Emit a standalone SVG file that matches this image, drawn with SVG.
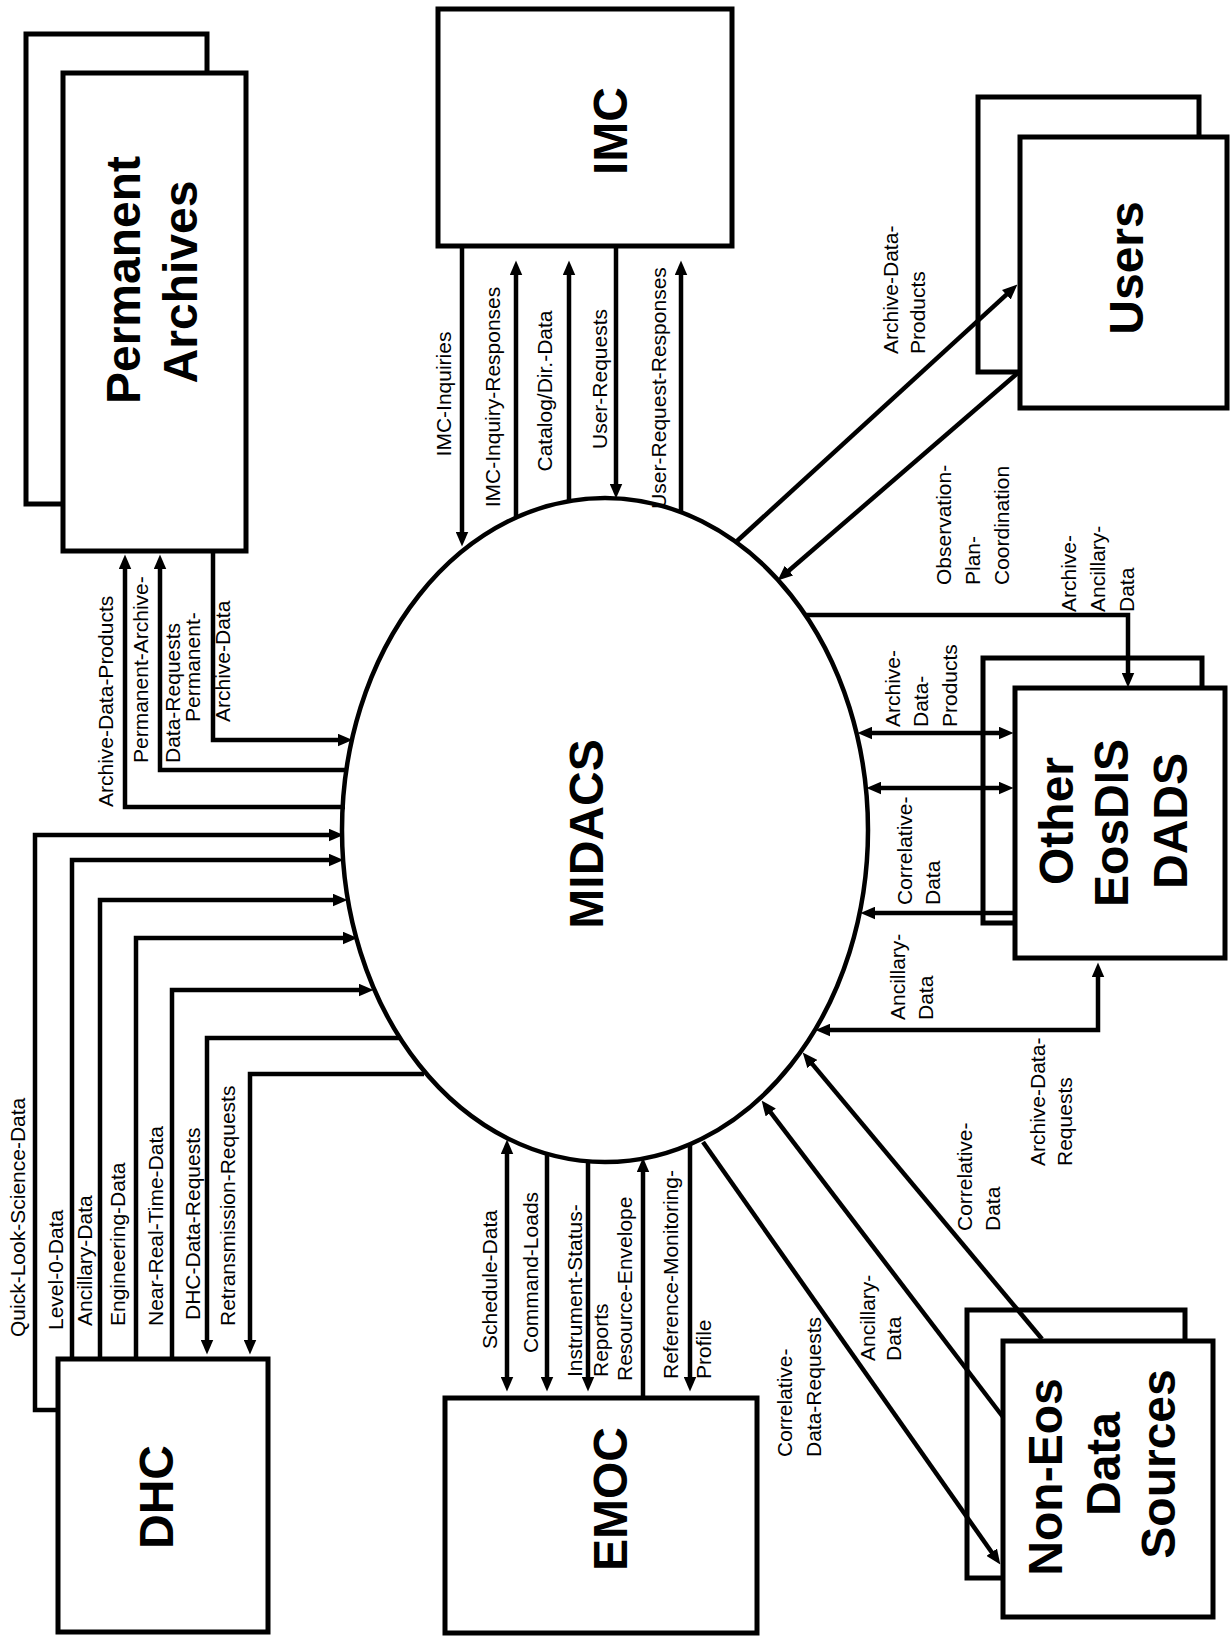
<svg xmlns="http://www.w3.org/2000/svg" width="1232" height="1636" viewBox="0 0 1232 1636">
<style>
.box{fill:#fff;stroke:#000;stroke-width:5}
.ell{fill:#fff;stroke:#000;stroke-width:4.5}
.c{fill:none;stroke:#000;stroke-width:4.5;stroke-linejoin:miter}
.a{marker-end:url(#ah)}
.d{marker-start:url(#ah);marker-end:url(#ah)}
.t{font-family:"Liberation Sans",Arial,sans-serif;font-weight:bold;font-size:48px;text-anchor:middle;fill:#000}
.l{font-family:"Liberation Sans",Arial,sans-serif;font-size:21px;fill:#000}
.m{text-anchor:middle}
</style>
<defs>
<marker id="ah" viewBox="0 0 14 12" refX="6" refY="6" markerWidth="15" markerHeight="13" markerUnits="userSpaceOnUse" orient="auto-start-reverse">
<path d="M0,0 L14,6 L0,12 z" fill="#000"/>
</marker>
</defs>
<rect width="1232" height="1636" fill="#fff"/>

<g id="permanent-archives">
<rect class="box" x="26" y="34" width="181" height="470"/>
<rect class="box" x="63" y="73" width="183" height="478"/>
<text class="t" transform="translate(140,280) rotate(-90)">Permanent</text>
<text class="t" transform="translate(197,282) rotate(-90)">Archives</text>
</g>

<g id="imc">
<rect class="box" x="438" y="9" width="294" height="237"/>
<text class="t" transform="translate(627,131) rotate(-90)">IMC</text>
</g>

<g id="users">
<rect class="box" x="978" y="97" width="221" height="275"/>
<rect class="box" x="1020" y="137" width="207" height="271"/>
<text class="t" transform="translate(1143,268) rotate(-90)">Users</text>
</g>

<g id="other-eosdis-dads">
<rect class="box" x="983" y="658" width="219" height="265"/>
<rect class="box" x="1015" y="688" width="210" height="270"/>
<text class="t" transform="translate(1073,821) rotate(-90)">Other</text>
<text class="t" transform="translate(1128,823) rotate(-90)">EosDIS</text>
<text class="t" transform="translate(1187,821) rotate(-90)">DADS</text>
</g>

<g id="dhc">
<rect class="box" x="58" y="1359" width="210" height="273"/>
<text class="t" transform="translate(173,1497) rotate(-90)">DHC</text>
</g>

<g id="emoc">
<rect class="box" x="445" y="1398" width="312" height="235"/>
<text class="t" transform="translate(627,1499) rotate(-90)">EMOC</text>
</g>

<g id="non-eos-data-sources">
<rect class="box" x="967" y="1310" width="218" height="268"/>
<rect class="box" x="1003" y="1341" width="210" height="276"/>
<text class="t" transform="translate(1062,1477) rotate(-90)">Non-Eos</text>
<text class="t" transform="translate(1120,1464) rotate(-90)">Data</text>
<text class="t" transform="translate(1175,1464) rotate(-90)">Sources</text>
</g>

<g id="midacs">
<ellipse class="ell" cx="605" cy="830" rx="263" ry="332"/>
<text class="t" transform="translate(603,834) rotate(-90)">MIDACS</text>
</g>

<g id="connectors">
<!-- Permanent Archives -->
<path class="c a" d="M345,807 H125 V563"/>
<path class="c a" d="M347,770 H160 V563"/>
<path class="c a" d="M213,551 V740 H344"/>
<!-- IMC -->
<path class="c a" d="M462,246 V538"/>
<path class="c a" d="M516,518 V269"/>
<path class="c a" d="M569,502 V269"/>
<path class="c a" d="M616,246 V490"/>
<path class="c a" d="M681,513 V269"/>
<!-- Users -->
<path class="c a" d="M736,542 L1011.1,290.4"/>
<path class="c a" d="M1020,371 L784.1,574.8"/>
<!-- Other EosDIS DADS -->
<path class="c a" d="M805,615 H1128 V679"/>
<path class="c d" d="M866,733 H1005"/>
<path class="c d" d="M875,788 H1005"/>
<path class="c a" d="M1015,913 H869"/>
<path class="c d" d="M824,1030 H1098 V971"/>
<!-- Non-Eos -->
<path class="c a" d="M1042,1339 L808.2,1059.1"/>
<path class="c a" d="M1003,1417 L766.8,1107.4"/>
<path class="c a" d="M703,1142 L995.4,1557.5"/>
<!-- EMOC -->
<path class="c d" d="M507,1148 V1383"/>
<path class="c a" d="M547,1154 V1383"/>
<path class="c a" d="M588,1162 V1383"/>
<path class="c a" d="M643,1398 V1166"/>
<path class="c a" d="M690,1144 V1383"/>
<!-- DHC -->
<path class="c a" d="M58,1410 H35 V835 H335"/>
<path class="c a" d="M72,1359 V860 H335"/>
<path class="c a" d="M100,1359 V900 H339"/>
<path class="c a" d="M136,1359 V938 H349"/>
<path class="c a" d="M172,1359 V990 H365"/>
<path class="c a" d="M399,1038 H207 V1346"/>
<path class="c a" d="M424,1074 H250 V1346"/>
</g>

<g id="labels">
<!-- IMC -->
<text class="l m" transform="translate(451,394) rotate(-90)">IMC-Inquiries</text>
<text class="l m" transform="translate(500,397) rotate(-90)">IMC-Inquiry-Responses</text>
<text class="l m" transform="translate(552,391) rotate(-90)">Catalog/Dir.-Data</text>
<text class="l m" transform="translate(607,379) rotate(-90)">User-Requests</text>
<text class="l m" transform="translate(666,388) rotate(-90)">User-Request-Responses</text>
<!-- Permanent Archives -->
<text class="l" transform="translate(113,807) rotate(-90)">Archive-Data-Products</text>
<text class="l" transform="translate(148,763) rotate(-90)">Permanent-Archive-</text>
<text class="l" transform="translate(180,763) rotate(-90)">Data-Requests</text>
<text class="l" transform="translate(200,722) rotate(-90)">Permanent-</text>
<text class="l" transform="translate(230,722) rotate(-90)">Archive-Data</text>
<!-- DHC -->
<text class="l" transform="translate(25,1337) rotate(-90)">Quick-Look-Science-Data</text>
<text class="l" transform="translate(63,1330) rotate(-90)">Level-0-Data</text>
<text class="l" transform="translate(92,1326) rotate(-90)">Ancillary-Data</text>
<text class="l" transform="translate(125,1326) rotate(-90)">Engineering-Data</text>
<text class="l" transform="translate(163,1326) rotate(-90)">Near-Real-Time-Data</text>
<text class="l" transform="translate(200,1320) rotate(-90)">DHC-Data-Requests</text>
<text class="l" transform="translate(235,1326) rotate(-90)">Retransmission-Requests</text>
<!-- EMOC -->
<text class="l" transform="translate(497,1349) rotate(-90)">Schedule-Data</text>
<text class="l" transform="translate(538,1353) rotate(-90)">Command-Loads</text>
<text class="l" transform="translate(582,1377) rotate(-90)">Instrument-Status-</text>
<text class="l" transform="translate(608,1377) rotate(-90)">Reports</text>
<text class="l" transform="translate(632,1381) rotate(-90)">Resource-Envelope</text>
<text class="l" transform="translate(678,1379) rotate(-90)">Reference-Monitoring-</text>
<text class="l" transform="translate(711,1379) rotate(-90)">Profile</text>
<!-- Non-Eos -->
<text class="l" transform="translate(792,1457) rotate(-90)">Correlative-</text>
<text class="l" transform="translate(821,1457) rotate(-90)">Data-Requests</text>
<text class="l" transform="translate(875,1361) rotate(-90)">Ancillary-</text>
<text class="l" transform="translate(901,1361) rotate(-90)">Data</text>
<text class="l" transform="translate(972,1231) rotate(-90)">Correlative-</text>
<text class="l" transform="translate(1000,1231) rotate(-90)">Data</text>
<text class="l" transform="translate(1045,1166) rotate(-90)">Archive-Data-</text>
<text class="l" transform="translate(1072,1166) rotate(-90)">Requests</text>
<!-- DADS -->
<text class="l" transform="translate(900,727) rotate(-90)">Archive-</text>
<text class="l" transform="translate(928,727) rotate(-90)">Data-</text>
<text class="l" transform="translate(957,727) rotate(-90)">Products</text>
<text class="l" transform="translate(912,905) rotate(-90)">Correlative-</text>
<text class="l" transform="translate(940,905) rotate(-90)">Data</text>
<text class="l" transform="translate(905,1020) rotate(-90)">Ancillary-</text>
<text class="l" transform="translate(933,1020) rotate(-90)">Data</text>
<!-- Users -->
<text class="l" transform="translate(898,354) rotate(-90)">Archive-Data-</text>
<text class="l" transform="translate(925,354) rotate(-90)">Products</text>
<text class="l" transform="translate(951,585) rotate(-90)">Observation-</text>
<text class="l" transform="translate(980,585) rotate(-90)">Plan-</text>
<text class="l" transform="translate(1009,585) rotate(-90)">Coordination</text>
<text class="l" transform="translate(1076,612) rotate(-90)">Archive-</text>
<text class="l" transform="translate(1105,612) rotate(-90)">Ancillary-</text>
<text class="l" transform="translate(1134,612) rotate(-90)">Data</text>
</g>
</svg>
